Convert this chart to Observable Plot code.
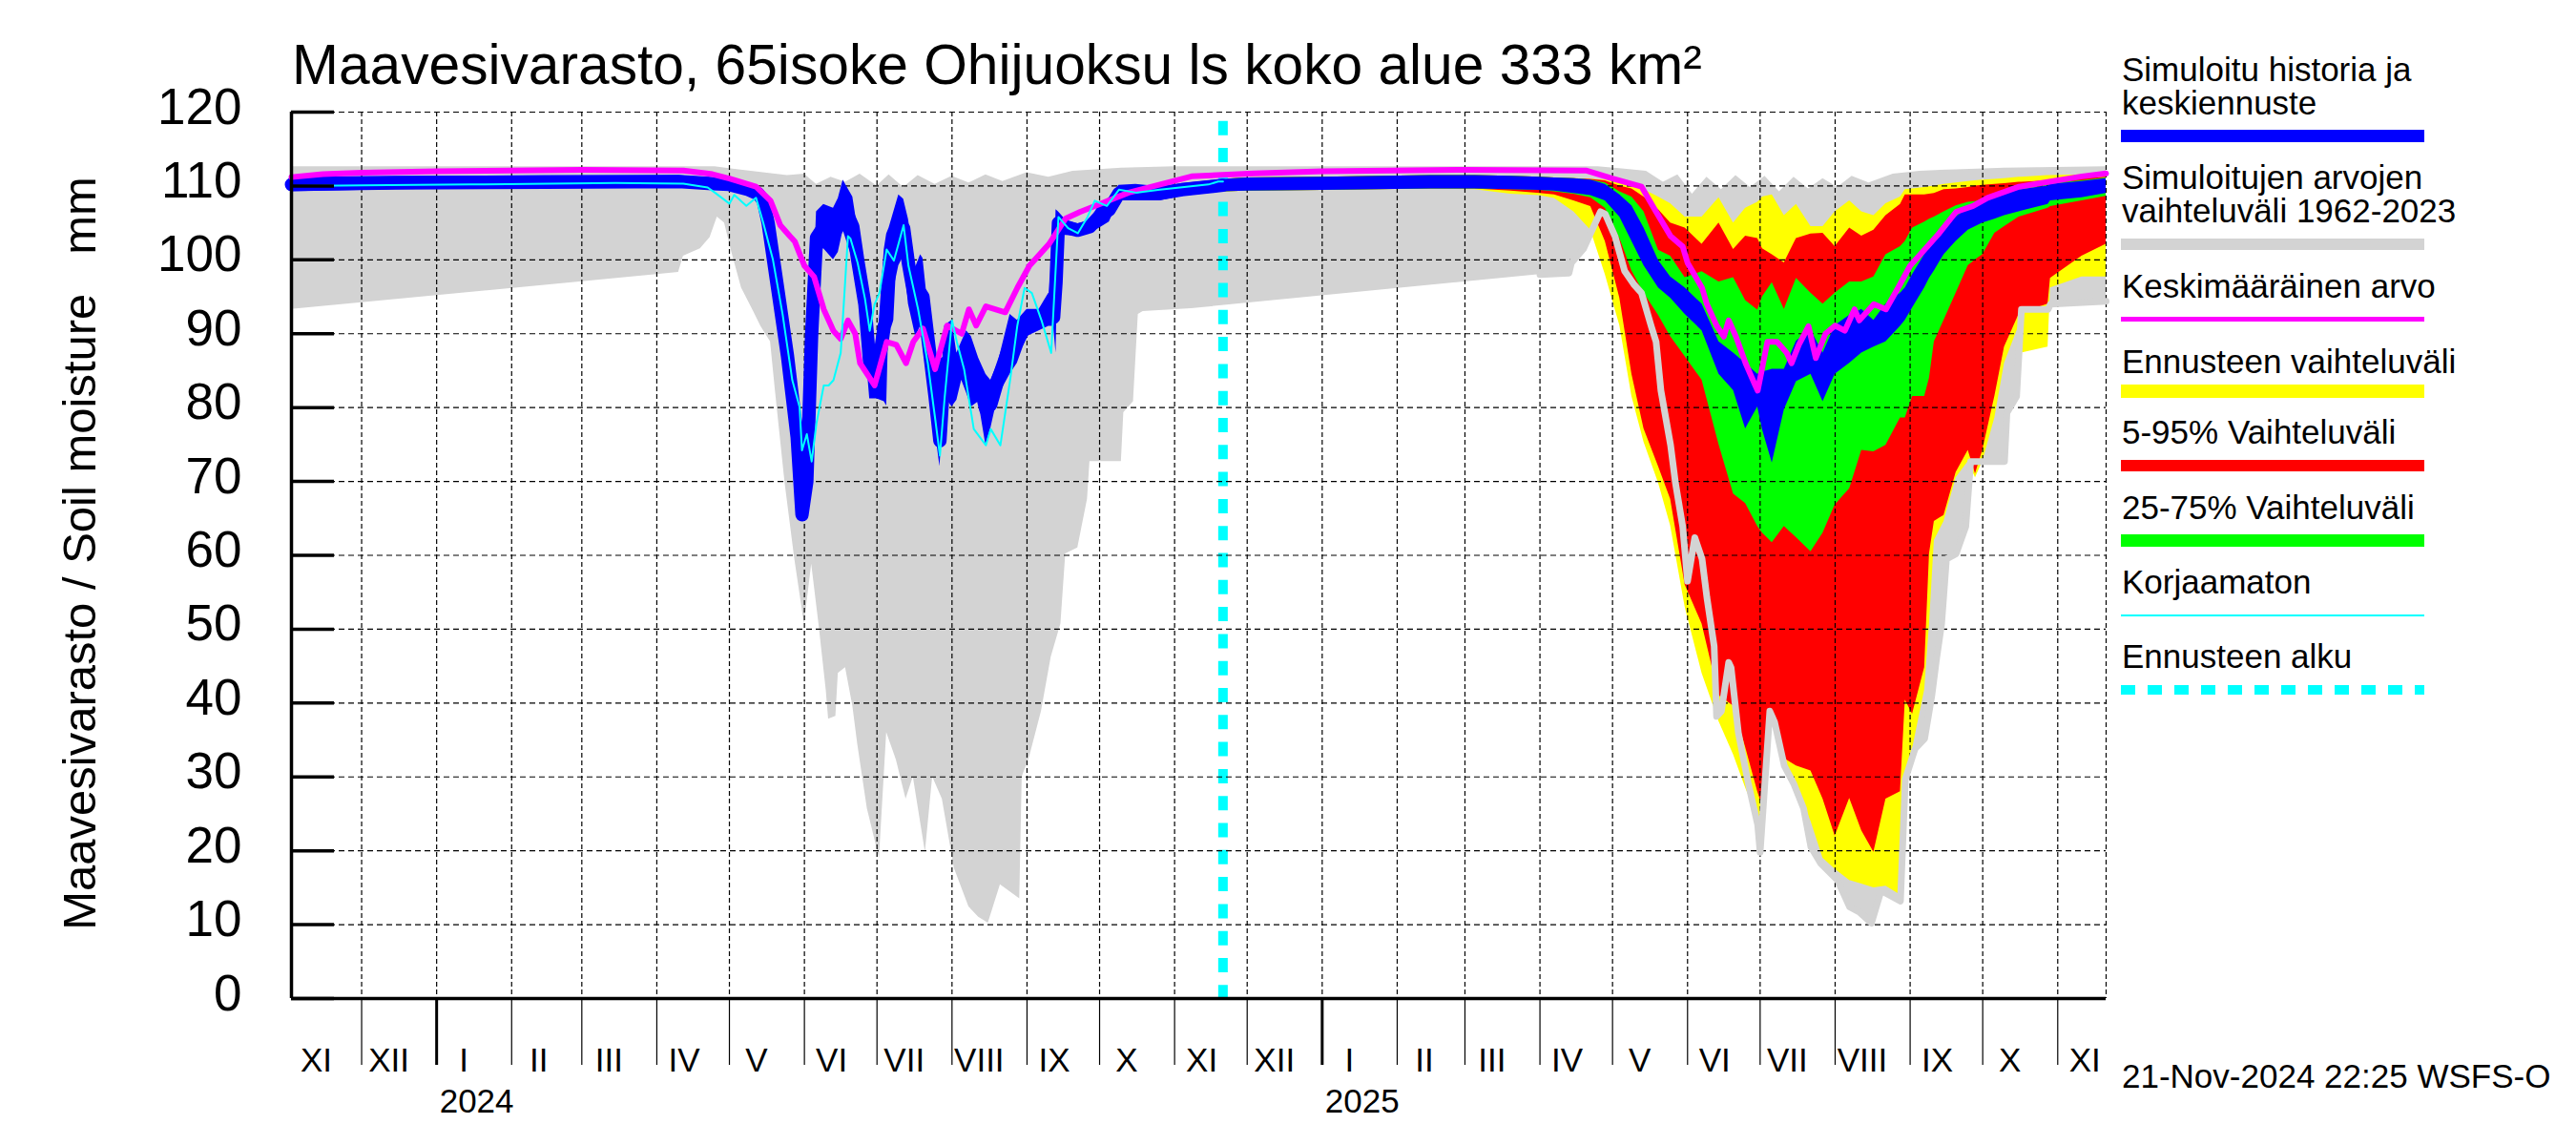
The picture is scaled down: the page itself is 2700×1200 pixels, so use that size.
<!DOCTYPE html>
<html><head><meta charset="utf-8">
<script src="https://cdn.jsdelivr.net/npm/d3@7"></script>
<script src="https://cdn.jsdelivr.net/npm/@observablehq/plot@0.6"></script>
<style>
html,body{margin:0;padding:0;background:#fff;}
#wrap{position:relative;width:2700px;height:1200px;overflow:hidden;background:#fff;}
#wrap svg.overlay{position:absolute;left:0;top:0;pointer-events:none;}
</style></head><body><div id="wrap"></div>
<script>
// ---------------- DATA ----------------
const titleText = "Maavesivarasto, 65isoke Ohijuoksu ls koko alue 333 km²";
const yLabelText = "Maavesivarasto / Soil moisture   mm";
const footerText = "21-Nov-2024 22:25 WSFS-O";
const yTickValues = [0,10,20,30,40,50,60,70,80,90,100,110,120];
const yTickLabels = ["0","10","20","30","40","50","60","70","80","90","100","110","120"];
const monthLabels = ["XI","XII","I","II","III","IV","V","VI","VII","VIII","IX","X","XI","XII","I","II","III","IV","V","VI","VII","VIII","IX","X","XI"];
const yearLabels = ["2024","2025"];
const forecastStartDate = "2024-11-21";

// Historical range 1962-2023 (max and min)
const histMax = [["2023-11-02",112.6],["2024-04-25",112.6],["2024-05-05",112.2],["2024-05-15",111.8],["2024-05-25",111.4],["2024-06-01",111.6],["2024-06-06",110.2],["2024-06-12",111.2],["2024-06-18",110.5],["2024-06-24",111.6],["2024-07-01",110.0],["2024-07-06",111.5],["2024-07-12",109.8],["2024-07-18",111.4],["2024-07-25",110.2],["2024-08-01",111.3],["2024-08-08",110.4],["2024-08-15",111.5],["2024-08-22",110.6],["2024-09-01",111.8],["2024-09-10",111.2],["2024-09-20",112.0],["2024-10-10",112.4],["2024-11-01",112.6],["2025-04-25",112.6],["2025-05-05",112.3],["2025-05-15",112.0],["2025-05-22",110.5],["2025-05-28",111.5],["2025-06-03",108.9],["2025-06-09",111.2],["2025-06-15",109.5],["2025-06-21",111.4],["2025-06-27",109.8],["2025-07-03",111.3],["2025-07-09",109.2],["2025-07-15",111.2],["2025-07-21",109.6],["2025-07-27",111.0],["2025-08-02",109.8],["2025-08-08",111.3],["2025-08-15",110.4],["2025-08-25",111.6],["2025-09-05",112.0],["2025-09-20",112.2],["2025-10-10",112.4],["2025-11-21",112.6]];

const histMin = [["2023-11-02",93.3],["2024-04-01",98.0],["2024-04-10",98.3],["2024-04-12",100.5],["2024-04-19",101.5],["2024-04-23",103.0],["2024-04-26",105.8],["2024-04-29",105.0],["2024-05-02",101.0],["2024-05-06",96.2],["2024-05-11",93.0],["2024-05-14",91.0],["2024-05-18",88.9],["2024-05-20",82.3],["2024-05-24",69.8],["2024-05-28",59.5],["2024-06-01",50.7],["2024-06-04",58.8],["2024-06-07",50.7],["2024-06-10",41.8],["2024-06-11",37.8],["2024-06-14",38.2],["2024-06-15",44.0],["2024-06-18",44.8],["2024-06-21",39.6],["2024-06-23",34.5],["2024-06-27",25.7],["2024-07-02",19.0],["2024-07-05",36.0],["2024-07-09",32.3],["2024-07-13",27.0],["2024-07-16",30.0],["2024-07-21",19.8],["2024-07-24",30.0],["2024-07-28",27.0],["2024-08-02",17.6],["2024-08-08",12.4],["2024-08-12",11.0],["2024-08-16",10.2],["2024-08-21",15.4],["2024-08-29",13.5],["2024-08-30",30.0],["2024-09-02",32.6],["2024-09-07",38.9],["2024-09-11",46.2],["2024-09-15",50.7],["2024-09-17",60.2],["2024-09-22",61.0],["2024-09-26",67.6],["2024-09-27",72.7],["2024-10-10",72.7],["2024-10-11",79.3],["2024-10-15",80.8],["2024-10-17",92.6],["2024-10-19",93.0],["2024-11-08",93.4],["2025-04-01",98.0],["2025-04-13",98.2],["2025-04-14",99.6],["2025-04-19",101.5],["2025-04-26",106.5],["2025-04-28",106.2],["2025-05-02",103.2],["2025-05-06",98.5],["2025-05-10",96.6],["2025-05-13",95.5],["2025-05-17",91.0],["2025-05-19",88.9],["2025-05-21",82.3],["2025-05-25",74.9],["2025-05-27",69.8],["2025-05-30",63.9],["2025-06-01",56.5],["2025-06-04",62.4],["2025-06-07",59.5],["2025-06-09",54.3],["2025-06-12",47.7],["2025-06-13",38.2],["2025-06-15",38.9],["2025-06-18",45.5],["2025-06-19",44.8],["2025-06-22",36.0],["2025-06-26",29.3],["2025-06-30",23.5],["2025-07-01",19.8],["2025-07-05",38.9],["2025-07-07",37.4],["2025-07-11",31.5],["2025-07-15",29.0],["2025-07-19",25.7],["2025-07-22",20.5],["2025-07-26",18.3],["2025-08-02",16.0],["2025-08-07",12.4],["2025-08-11",11.7],["2025-08-16",10.2],["2025-08-20",14.6],["2025-08-24",13.9],["2025-08-28",13.2],["2025-08-30",29.7],["2025-09-03",33.8],["2025-09-07",35.2],["2025-09-10",41.1],["2025-09-12",46.2],["2025-09-14",50.7],["2025-09-16",59.5],["2025-09-20",60.2],["2025-09-24",63.9],["2025-09-26",72.7],["2025-10-10",72.7],["2025-10-11",79.3],["2025-10-15",81.5],["2025-10-17",93.3],["2025-10-28",93.3],["2025-10-29",94.0],["2025-11-21",94.4]];

// Mean value (Keskimääräinen arvo)
const meanValue = [["2023-11-02",111.2],["2023-11-15",111.6],["2023-12-01",111.8],["2024-01-01",112.0],["2024-03-01",112.2],["2024-04-12",112.1],["2024-04-24",111.6],["2024-05-01",111.0],["2024-05-12",109.9],["2024-05-18",108.0],["2024-05-22",104.7],["2024-05-26",103.2],["2024-05-28",102.5],["2024-06-01",99.2],["2024-06-05",97.7],["2024-06-09",93.3],["2024-06-13",90.4],["2024-06-16",89.3],["2024-06-19",91.8],["2024-06-22",90.0],["2024-06-24",86.0],["2024-06-30",83.0],["2024-07-05",88.9],["2024-07-09",88.5],["2024-07-13",86.0],["2024-07-16",88.9],["2024-07-20",90.7],["2024-07-25",85.2],["2024-07-30",91.1],["2024-08-05",90.0],["2024-08-08",93.3],["2024-08-11",91.1],["2024-08-15",93.7],["2024-08-23",92.9],["2024-08-28",96.2],["2024-09-02",99.2],["2024-09-10",102.1],["2024-09-17",105.6],["2024-09-23",106.5],["2024-09-30",107.4],["2024-10-13",109.1],["2024-10-26",110.2],["2024-11-08",111.3],["2024-12-04",111.7],["2025-01-01",112.0],["2025-03-01",112.2],["2025-04-20",112.1],["2025-05-01",111.0],["2025-05-13",109.9],["2025-05-19",106.5],["2025-05-25",103.2],["2025-05-30",101.8],["2025-06-01",99.6],["2025-06-07",96.2],["2025-06-09",94.0],["2025-06-13",91.1],["2025-06-16",89.6],["2025-06-18",91.8],["2025-06-21",89.6],["2025-06-25",86.0],["2025-06-29",83.0],["2025-06-30",82.3],["2025-07-04",88.9],["2025-07-08",88.9],["2025-07-12",87.4],["2025-07-14",86.0],["2025-07-17",88.5],["2025-07-21",91.0],["2025-07-24",86.7],["2025-07-28",90.0],["2025-08-01",91.1],["2025-08-05",90.4],["2025-08-09",93.3],["2025-08-11",91.8],["2025-08-17",94.0],["2025-08-22",93.3],["2025-08-27",96.2],["2025-09-01",99.2],["2025-09-07",101.4],["2025-09-13",103.6],["2025-09-20",106.5],["2025-09-27",107.3],["2025-10-03",108.4],["2025-10-16",109.9],["2025-10-29",110.6],["2025-11-11",111.3],["2025-11-21",111.7]];

// Simulated history: [date, low, middle, high]
const simHistory = [["2023-11-02",109.2,110.2,111.2],["2023-12-15",109.5,110.4,111.3],["2024-02-15",109.7,110.5,111.4],["2024-04-10",109.8,110.6,111.4],["2024-04-24",109.4,110.3,111.1],["2024-05-01",109.4,110.2,110.9],["2024-05-09",108.8,109.5,110.3],["2024-05-13",108.0,108.9,110.0],["2024-05-15",106.5,108.0,109.5],["2024-05-17",105,105,105],["2024-05-21",96,96,96],["2024-05-25",87,87,87],["2024-05-29",76,76,76],["2024-05-31",65.5,65.5,65.5],["2024-06-02",70,70,70],["2024-06-04",90,90,90],["2024-06-06",101,103,106.5],["2024-06-09",101.5,104.5,107.5],["2024-06-13",100.0,103.5,107.0],["2024-06-15",101.0,104.5,108.3],["2024-06-17",104.0,107.5,110.8],["2024-06-21",100.0,104.5,108.5],["2024-06-23",95.5,100.0,104.3],["2024-06-26",89.0,94.0,99.0],["2024-06-28",81.2,86.0,91.0],["2024-07-01",81.2,84.3,87.4],["2024-07-04",80.8,91.0,101.4],["2024-07-05",80.2,92.0,103.5],["2024-07-06",93.0,98.5,104.3],["2024-07-10",99.2,104.0,108.8],["2024-07-12",100.5,104.3,108.2],["2024-07-14",94.0,99.5,105.5],["2024-07-17",89.6,94.0,99.0],["2024-07-19",91.0,95.5,100.7],["2024-07-20",90.4,95.0,100.2],["2024-07-22",85.0,89.5,94.0],["2024-07-25",77.0,81.5,86.7],["2024-07-27",72.0,75.5,80.0],["2024-07-29",81.5,86.0,91.1],["2024-08-01",80.1,86.0,91.8],["2024-08-03",81.0,84.5,87.4],["2024-08-05",83.7,86.3,88.9],["2024-08-07",82.0,86.0,90.4],["2024-08-09",80.1,85.0,89.6],["2024-08-12",80.8,83.8,86.7],["2024-08-15",74.9,79.7,84.5],["2024-08-17",77.1,80.4,83.7],["2024-08-20",81.5,83.8,86.0],["2024-08-25",84.5,88.5,92.6],["2024-08-28",86.0,88.9,91.8],["2024-09-01",89.6,91.5,93.3],["2024-09-06",90.4,91.9,93.3],["2024-09-10",91.0,93.2,95.5],["2024-09-12",91.0,92.2,93.5],["2024-09-13",87.4,97.0,106.8],["2024-09-14",103.6,105.0,106.5],["2024-09-17",103.3,104.4,105.4],["2024-09-22",103.2,104.0,104.9],["2024-09-27",103.6,104.5,105.3],["2024-10-01",104.3,105.9,107.5],["2024-10-05",105.1,106.8,108.4],["2024-10-09",108.0,109.0,110.1],["2024-10-16",108.0,109.1,110.2],["2024-10-26",108.0,109.0,109.9],["2024-11-04",108.6,109.5,110.3],["2024-11-21",109.2,110.1,110.9]];

// Uncorrected (Korjaamaton)
const uncorrected = [["2023-11-02",110.0],["2023-12-01",110.1],["2024-01-15",110.2],["2024-03-15",110.4],["2024-04-12",110.3],["2024-04-22",109.8],["2024-04-25",109.1],["2024-05-01",107.6],["2024-05-03",108.8],["2024-05-08",107.3],["2024-05-12",108.4],["2024-05-15",105.0],["2024-05-19",100.0],["2024-05-23",92.6],["2024-05-27",83.7],["2024-05-30",80.1],["2024-05-31",74.2],["2024-06-02",76.4],["2024-06-04",72.7],["2024-06-06",77.9],["2024-06-09",83.0],["2024-06-11",83.0],["2024-06-13",83.7],["2024-06-16",87.4],["2024-06-17",92.6],["2024-06-19",103.2],["2024-06-20",102.9],["2024-06-23",99.6],["2024-06-26",94.8],["2024-06-28",90.4],["2024-06-30",94.0],["2024-07-02",95.5],["2024-07-05",101.4],["2024-07-08",99.9],["2024-07-12",104.7],["2024-07-14",99.2],["2024-07-18",93.3],["2024-07-22",86.0],["2024-07-25",78.6],["2024-07-27",73.5],["2024-07-29",81.5],["2024-08-01",91.8],["2024-08-03",88.9],["2024-08-06",85.2],["2024-08-10",77.1],["2024-08-15",74.9],["2024-08-17",77.1],["2024-08-21",74.9],["2024-08-25",83.7],["2024-08-28",91.1],["2024-08-31",96.2],["2024-09-03",95.5],["2024-09-07",91.8],["2024-09-11",87.4],["2024-09-14",105.8],["2024-09-18",104.3],["2024-09-22",103.6],["2024-09-26",105.8],["2024-09-29",108.0],["2024-10-04",107.3],["2024-10-09",109.5],["2024-10-16",109.1],["2024-10-26",109.5],["2024-11-15",110.2],["2024-11-19",110.6],["2024-11-21",110.6]];

// Forecast distribution
const fcDates = ["2024-11-21","2024-12-01","2025-01-01","2025-02-15","2025-03-05","2025-03-20","2025-04-01","2025-04-07","2025-04-15","2025-04-22","2025-04-28","2025-05-04","2025-05-09","2025-05-14","2025-05-20","2025-05-25","2025-05-31","2025-06-07","2025-06-14","2025-06-20","2025-06-25","2025-06-30","2025-07-02","2025-07-06","2025-07-11","2025-07-16","2025-07-22","2025-07-27","2025-08-01","2025-08-07","2025-08-12","2025-08-17","2025-08-22","2025-08-28","2025-08-30","2025-09-02","2025-09-07","2025-09-09","2025-09-11","2025-09-15","2025-09-20","2025-09-25","2025-09-28","2025-10-01","2025-10-06","2025-10-10","2025-10-16","2025-10-17","2025-10-28","2025-10-29","2025-11-11","2025-11-21"];
const fcYellowMin = [109.2,109.3,109.4,109.6,109.5,108.9,108.7,108.3,106.5,104.0,98.0,91.1,81.5,75.3,69.8,64.0,53.0,44.0,37.5,33.0,28.5,24.5,20.0,38.0,31.5,29.0,24.0,19.0,17.5,16.0,15.5,15.0,15.2,14.0,28.0,33.8,41.8,50.7,62.0,64.6,70.5,72.7,70.5,72.7,78.6,86.0,91.1,87.4,88.2,96.2,97.7,97.7];
const fcRedMin = [109.2,109.3,109.4,109.6,109.6,109.3,109.0,108.8,108.0,107.2,102.5,94.8,84.5,77.1,72.0,67.6,56.0,50.7,41.0,39.6,34.0,28.0,26.0,39.0,32.5,31.5,30.8,27.0,22.0,27.1,22.7,19.8,27.0,28.0,40.4,38.5,44.8,60.2,64.6,65.4,71.2,74.2,71.0,74.2,81.5,88.2,92.6,92.8,94.0,97.5,100.5,102.1];
const fcGreenMin = [109.2,109.3,109.4,109.6,109.6,109.5,109.4,109.2,108.9,108.4,107.0,102.9,98.5,95.5,92.5,89.6,86.9,83.7,75.0,68.3,67.0,63.9,63.0,61.7,63.9,62.4,60.5,63.0,66.8,69.0,74.2,74.0,74.9,78.6,78.6,81.5,81.5,84.0,88.9,91.8,95.5,99.2,100.0,100.7,103.6,104.5,105.8,105.9,107.0,107.2,108.0,108.6];
const fcBlueLow = [109.2,109.3,109.4,109.6,109.6,109.5,109.4,109.3,109.0,108.7,108.0,105.8,102.5,99.2,96.2,94.8,92.6,90.4,84.5,82.3,77.1,80.1,77.0,72.5,79.7,83.5,84.5,80.8,84.5,86.0,87.4,88.2,88.9,91.0,91.8,93.5,96.2,97.5,98.5,100.7,102.5,104.0,104.5,105.0,105.5,106.0,106.5,106.6,107.5,108.0,108.4,109.0];
const fcBlueHigh = [110.9,111.1,111.2,111.4,111.4,111.3,111.2,111.1,111.0,110.8,110.2,108.8,107.3,104.3,99.9,97.7,96.2,94.0,88.9,87.4,86.0,84.5,84.8,85.2,85.2,89.0,90.5,87.4,91.1,92.5,93.3,91.8,94.0,95.5,96.2,98.0,100.7,101.8,102.5,104.3,105.8,107.0,107.5,108.0,108.3,108.8,109.5,109.5,110.0,110.2,110.6,111.0];
const fcGreenMax = [110.9,111.1,111.2,111.4,111.4,111.3,111.2,111.1,111.0,110.8,110.4,109.2,108.5,106.5,101.3,100.5,97.6,98.4,97.0,97.6,94.5,93.2,95.0,96.9,93.3,97.5,95.5,94.0,95.5,97.0,97.0,97.7,100.7,101.8,102.5,104.3,105.1,105.5,105.8,106.5,107.3,107.8,107.9,108.2,108.5,108.9,109.6,109.6,110.1,110.3,110.7,111.1];
const fcRedMax = [110.9,111.1,111.2,111.4,111.4,111.3,111.2,111.1,111.0,110.9,110.7,110.0,109.6,108.5,106.8,105.0,104.3,102.1,105.0,101.4,103.2,102.9,101.5,100.7,99.6,102.9,103.5,103.6,101.8,104.3,103.2,104.0,106.0,107.5,108.8,108.8,108.8,108.9,109.0,109.5,109.6,109.8,110.0,110.1,110.2,110.3,110.5,110.5,110.7,110.8,111.0,111.2];
const fcYellowMax = [110.9,111.1,111.2,111.4,111.4,111.3,111.2,111.1,111.0,110.9,110.8,110.5,110.0,109.5,108.5,107.6,105.8,105.8,108.4,105.0,107.0,107.8,108.5,108.8,106.0,107.5,104.5,104.5,106.5,108.0,106.5,106.0,107.6,108.5,109.5,109.6,109.8,109.9,110.0,110.2,110.4,110.6,110.7,110.8,110.9,111.0,111.2,111.2,111.4,111.4,111.5,111.6];

// ---------------- BUILD ----------------
const FONT = '"Liberation Sans", Arial, Helvetica, sans-serif';
const GRAY = "#d3d3d3", BLUE = "#0000ff", MAGENTA = "#ff00ff", CYAN = "#00ffff",
      YELLOW = "#ffff00", RED = "#ff0000", GREEN = "#00ff00";
const P = d3.utcParse("%Y-%m-%d");
const pairs = a => a.map(([d, v]) => ({date: P(d), v}));
const startDate = P("2023-11-02"), endDate = P("2025-11-21");
const fcStart = P(forecastStartDate);

const fc = fcDates.map((d, i) => ({
  date: P(d), yMin: fcYellowMin[i], rMin: fcRedMin[i], gMin: fcGreenMin[i],
  bLo: fcBlueLow[i], bHi: fcBlueHigh[i], gMax: fcGreenMax[i], rMax: fcRedMax[i], yMax: fcYellowMax[i]
}));
const hist = simHistory.map(([d, lo, mid, hi]) => ({date: P(d), lo, mid, hi}));
const histMinRows = pairs(histMin);
const histMinLine = histMinRows.filter(r => r.date >= P("2025-03-01"));

const monthStarts = d3.utcMonth.range(new Date(Date.UTC(2023, 10, 1)), new Date(Date.UTC(2025, 11, 1)));
const monthLabelDates = monthStarts.map(m => d3.utcDay.offset(m, 14));
const monthTicks = d3.utcMonth.range(new Date(Date.UTC(2023, 11, 1)), new Date(Date.UTC(2025, 11, 1)));
const yearTicks = [new Date(Date.UTC(2024, 0, 1)), new Date(Date.UTC(2025, 0, 1))];

const chart = Plot.plot({
  width: 2700, height: 1200,
  marginLeft: 305, marginRight: 493, marginTop: 117, marginBottom: 154,
  x: {type: "utc", domain: [startDate, endDate]},
  y: {domain: [0, 120]},
  style: {fontFamily: FONT, background: "white", color: "black", overflow: "visible"},
  marks: [
    Plot.areaY(pairs(histMax), {x: "date", y: "v", fill: GRAY}),
    Plot.areaY(histMinRows, {x: "date", y: "v", fill: "white"}),
    Plot.areaY(fc, {x: "date", y1: "yMin", y2: "yMax", fill: YELLOW}),
    Plot.areaY(fc, {x: "date", y1: "rMin", y2: "rMax", fill: RED}),
    Plot.areaY(fc, {x: "date", y1: "gMin", y2: "gMax", fill: GREEN}),
    Plot.ruleX([fcStart], {stroke: CYAN, strokeWidth: 10, strokeDasharray: "15,13.3", strokeDashoffset: 18.6}),
    Plot.ruleY(yTickValues.filter(v => v > 0), {stroke: "black", strokeWidth: 1.2, strokeDasharray: "6,4"}),
    Plot.ruleX(monthTicks, {stroke: "black", strokeWidth: 1.2, strokeDasharray: "5,3"}),
    Plot.ruleX([endDate], {stroke: "black", strokeWidth: 1.2, strokeDasharray: "5,3"}),
    Plot.areaY(fc, {x: "date", y1: "bLo", y2: "bHi", fill: BLUE}),
    Plot.areaY(hist, {x: "date", y1: "lo", y2: "hi", fill: BLUE}),
    Plot.line(histMinLine, {x: "date", y: "v", stroke: GRAY, strokeWidth: 7, strokeLinejoin: "round"}),
    Plot.line(hist, {x: "date", y: "mid", stroke: BLUE, strokeWidth: 14, strokeLinejoin: "round"}),
    Plot.line(pairs(meanValue), {x: "date", y: "v", stroke: MAGENTA, strokeWidth: 6, strokeLinejoin: "round"}),
    Plot.line(pairs(uncorrected), {x: "date", y: "v", stroke: CYAN, strokeWidth: 2}),
    // axes
    Plot.ruleY([0], {stroke: "black", strokeWidth: 3.5}),
    Plot.ruleX([startDate], {stroke: "black", strokeWidth: 3.5}),
    Plot.axisY({ticks: yTickValues, tickSize: -45, tickFormat: () => "", strokeWidth: 3.5, label: null}),
    Plot.text(yTickValues, {y: d => d, frameAnchor: "left", text: (d, i) => yTickLabels[i], textAnchor: "end", dx: -52, lineAnchor: "bottom", dy: 12, fontSize: 53, fill: "black"}),
    Plot.axisX({ticks: monthTicks, tickSize: 70, tickFormat: () => "", strokeWidth: 1.2, label: null}),
    Plot.axisX({ticks: yearTicks, tickSize: 70, tickFormat: () => "", strokeWidth: 3, label: null}),
    Plot.text(monthLabelDates, {x: d => d, text: (d, i) => monthLabels[i], frameAnchor: "bottom", lineAnchor: "bottom", dy: 76, dx: -7, fontSize: 35, fill: "black"}),
    Plot.text(yearTicks, {x: d => d, text: (d, i) => yearLabels[i], frameAnchor: "bottom", lineAnchor: "bottom", textAnchor: "start", dx: 3, dy: 119, fontSize: 35, fill: "black"})
  ]
});
document.getElementById("wrap").appendChild(chart);

// ---------------- OVERLAY (title, y label, legend, footer) ----------------
const ov = d3.select("#wrap").append("svg").attr("class", "overlay")
  .attr("width", 2700).attr("height", 1200).style("font-family", FONT);
ov.append("text").attr("x", 306).attr("y", 88).attr("font-size", 58.7).attr("fill", "black").text(titleText);
ov.append("text").attr("transform", "translate(100,580) rotate(-90)").attr("text-anchor", "middle")
  .attr("font-size", 49).style("white-space", "pre").attr("fill", "black").text(yLabelText);
ov.append("text").attr("x", 2224).attr("y", 1140).attr("font-size", 35).attr("fill", "black").text(footerText);

const legendItems = [
  {lines: ["Simuloitu historia ja", "keskiennuste"], color: BLUE, base: [84.6, 119.5], sy: 136, sh: 13},
  {lines: ["Simuloitujen arvojen", "vaihteluväli 1962-2023"], color: GRAY, base: [198, 233], sy: 250, sh: 12},
  {lines: ["Keskimääräinen arvo"], color: MAGENTA, base: [312], sy: 332, sh: 5},
  {lines: ["Ennusteen vaihteluväli"], color: YELLOW, base: [391], sy: 403, sh: 14},
  {lines: ["5-95% Vaihteluväli"], color: RED, base: [465], sy: 482, sh: 12},
  {lines: ["25-75% Vaihteluväli"], color: GREEN, base: [544], sy: 560, sh: 13},
  {lines: ["Korjaamaton"], color: CYAN, base: [622], sy: 644, sh: 2},
  {lines: ["Ennusteen alku"], color: CYAN, base: [700], sy: 718, sh: 10, dash: true}
];
legendItems.forEach(it => {
  it.lines.forEach((t, j) => ov.append("text").attr("x", 2224).attr("y", it.base[j])
    .attr("font-size", 35).attr("fill", "black").text(t));
  if (it.dash) {
    ov.append("line").attr("x1", 2223).attr("x2", 2541).attr("y1", it.sy + it.sh / 2).attr("y2", it.sy + it.sh / 2)
      .attr("stroke", it.color).attr("stroke-width", it.sh).attr("stroke-dasharray", "15,13");
  } else {
    ov.append("rect").attr("x", 2223).attr("y", it.sy).attr("width", 318).attr("height", it.sh).attr("fill", it.color);
  }
});
</script></body></html>
